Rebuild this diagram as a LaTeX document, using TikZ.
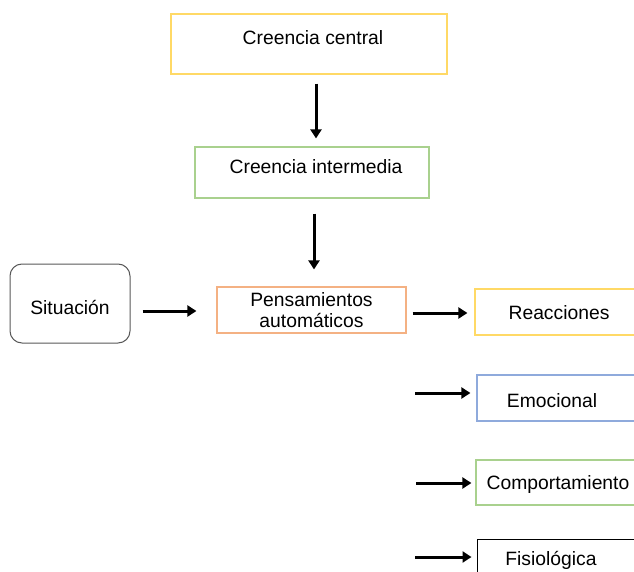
\documentclass[tikz,border=0pt]{standalone}
\usepackage{fontspec}
\setmainfont{Liberation Sans}
\usetikzlibrary{arrows.meta}
\definecolor{boxYellow}{RGB}{255,217,102}
\definecolor{boxGreen}{RGB}{169,209,142}
\definecolor{boxOrange}{RGB}{244,177,131}
\definecolor{boxBlue}{RGB}{143,170,220}
\definecolor{boxGray}{RGB}{89,89,89}
\begin{document}
\begin{tikzpicture}[x=1pt,y=-1pt,
  box/.style={draw,line width=1.2pt,inner sep=0pt,text depth=5pt,
    font=\fontsize{19.3}{20.5}\selectfont,anchor=center},
  arr/.style={line width=3pt,-{Triangle[length=9pt,width=11pt]}}]
\useasboundingbox (0,0) rectangle (634,572);
\clip (0,0) rectangle (634,572);
\fill[white] (0,0) rectangle (634,572);
\node[box,draw=boxYellow,minimum width=276pt,minimum height=60pt,text height=7pt] (cc) at (309,44) {\hspace{8pt}Creencia central};
\node[box,draw=boxGreen,minimum width=234pt,minimum height=51pt,text height=7pt] (ci) at (312,172.5) {\hspace{8pt}Creencia intermedia};
\node[box,draw=boxGray,line width=1pt,rounded corners=12pt,minimum width=120pt,minimum height=79pt,text height=26pt] (si) at (70,303.5) {Situación};
\node[box,draw=boxOrange,minimum width=189pt,minimum height=46pt,align=center,text depth=] (pa) at (311.5,310) {Pensamientos\\automáticos};
\node[box,draw=boxYellow,minimum width=165pt,minimum height=46pt,text height=19pt] (re) at (557.5,312) {\hspace{3pt}Reacciones};
\node[box,draw=boxBlue,minimum width=163pt,minimum height=46pt,text height=23pt] (em) at (558.5,398) {\hspace{-13pt}Emocional};
\node[box,draw=boxGreen,minimum width=164pt,minimum height=45pt,text height=18pt] (co) at (558,482.5) {Comportamiento};
\node[box,draw=black,line width=1pt,minimum width=163pt,minimum height=46pt,text height=11pt] (fi) at (558.5,562) {\hspace{-15pt}Fisiológica};
\coordinate (e1) at (415,393);
\coordinate (c1) at (416,483);
\coordinate (f1) at (415,557);
\draw[arr] ([xshift=7pt,yshift=-9pt]cc.south) -- ([xshift=4pt,yshift=8pt]ci.north);
\draw[arr] ([xshift=2pt,yshift=-15pt]ci.south) -- ([xshift=2.5pt,yshift=17pt]pa.north);
\draw[arr] ([xshift=12pt,yshift=-7.5pt]si.east) -- ([xshift=-20pt,yshift=-1pt]pa.west);
\draw[arr] ([xshift=6pt,yshift=-3pt]pa.east) -- ([xshift=-7pt,yshift=-1pt]re.west);
\draw[arr] (e1) -- ([xshift=-6pt,yshift=5pt]em.west);
\draw[arr] (c1) -- ([xshift=-4pt,yshift=-0.5pt]co.west);
\draw[arr] (f1) -- ([xshift=-5pt,yshift=5pt]fi.west);
\end{tikzpicture}
\end{document}
